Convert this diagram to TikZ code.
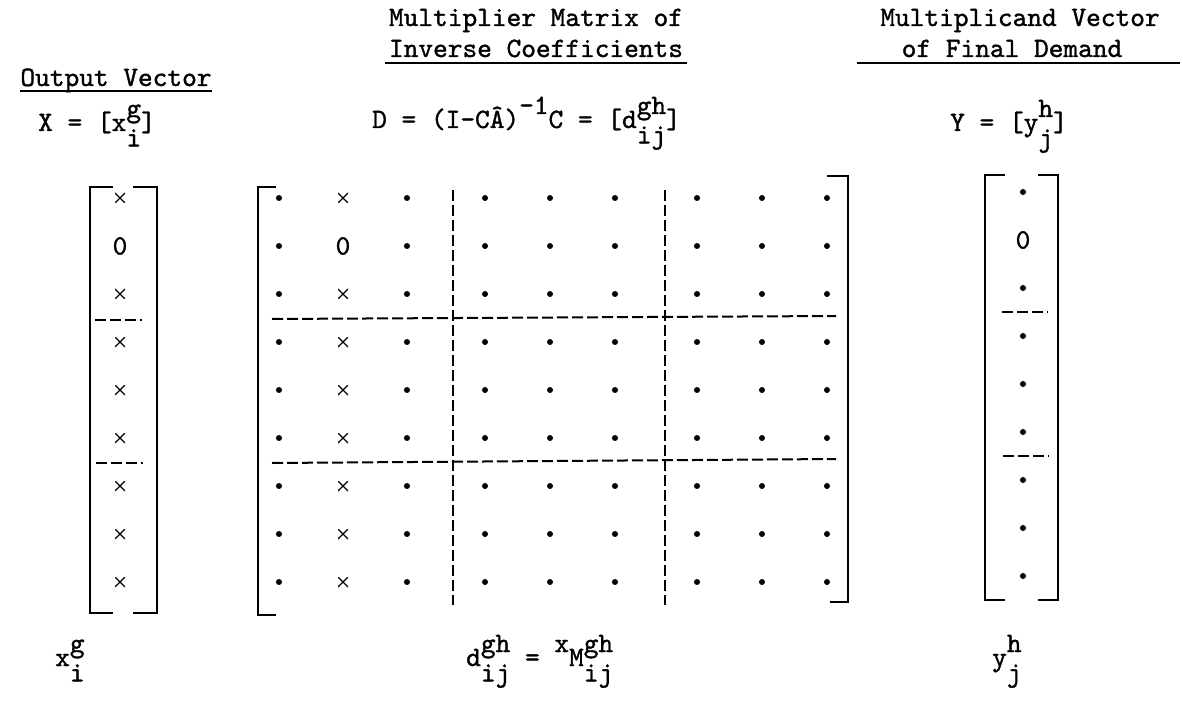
\documentclass[tikz,border=0pt]{standalone}
\usepackage{fontspec}
\newfontfamily\tw{lmmono10-regular.otf}[FakeBold=1.2]
\newcommand{\supsub}[2]{\rlap{\raisebox{0.5em}{#1}}\raisebox{-0.55em}{#2}}
\newcommand{\upx}[1]{\raisebox{0.5em}{#1}}
\begin{document}
\begin{tikzpicture}[x=1pt,y=-1pt,
  lbl/.style={inner sep=0pt, font=\tw\fontsize{28}{32}\selectfont},
  dotent/.style={circle, fill=black, inner sep=0pt, minimum size=6pt},
  crossent/.style={inner sep=0pt, minimum size=10pt,
    path picture={\draw[line width=1.4pt]
      (path picture bounding box.north west) -- (path picture bounding box.south east)
      (path picture bounding box.south west) -- (path picture bounding box.north east);}},
  zeroent/.style={inner sep=0pt, font=\tw\fontsize{28}{32}\selectfont},
  brk/.style={line width=1.6pt},
  dsh/.style={line width=2pt, dash pattern=on 11pt off 4pt},
  uline/.style={line width=1.4pt}]
\useasboundingbox (0,0) rectangle (1183,719);

% ---- titles
\node[lbl, anchor=base] (ov) at (116,86) {Output Vector};
\draw[uline] ([yshift=-5pt]ov.base west) -- ([yshift=-5pt]ov.base east);

\node[lbl, anchor=base] (mm1) at (536,26) {Multiplier Matrix of};
\node[lbl, anchor=base] (mm2) at (536,57) {Inverse Coefficients};
\draw[uline] ([yshift=-6pt,xshift=-4pt]mm2.base west) -- ([yshift=-6pt,xshift=4pt]mm2.base east);

\node[lbl, anchor=base] (mv1) at (1020,26) {Multiplicand Vector};
\node[lbl, anchor=base] (mv2) at (1012,57) {of Final Demand};
\coordinate (mvL) at (857,63);
\coordinate (mvR) at (1180,63);
\draw[uline] (mvL) -- (mvR);

% ---- equations
\node[lbl, anchor=base west] (xe) at (38,131) {X = [x\supsub{g}{i}]};
\node[lbl, anchor=base west] (de) at (372,128) {D = (I-CÂ)\upx{-1}C = [d\supsub{gh}{ij}]};
\node[lbl, anchor=base west] (ye) at (950,131) {Y = [y\supsub{h}{j}]};

% ---- output vector
\draw[brk] (113,187) -- (90,187) -- (90,613) -- (113,613);
\draw[brk] (133,187) -- (157,187) -- (157,613) -- (133,613);
\foreach \r/\y in {1/198,3/294,4/342,5/390,6/438,7/486,8/534,9/582}
  \node[crossent] (xv-\r) at (120,\y) {};
\node[zeroent] (xv-2) at (120,246) {0};
\draw[dsh] (95,320) -- (142,320);
\draw[dsh] (96,463) -- (143,463);

% ---- multiplier matrix
\draw[brk] (276,187) -- (258,187) -- (258,615) -- (276,615);
\draw[brk] (827,176) -- (848,176) -- (848,602) -- (830,602);
\foreach \r/\y in {1/198,2/246,3/294,4/342,5/390,6/438,7/486,8/534,9/582}
  \foreach \c/\x in {1/279,3/407,4/485,5/550,6/615,7/697,8/762,9/827}
    \node[dotent] (m-\r-\c) at (\x,\y) {};
\foreach \r/\y in {1/198,3/294,4/342,5/390,6/438,7/486,8/534,9/582}
  \node[crossent] (m-\r-2) at (343,\y) {};
\node[zeroent] (m-2-2) at (343,246) {0};
\draw[dsh] (453,190) -- (453,605);
\draw[dsh] (665,190) -- (665,605);
\draw[dsh] (272,319) -- (836,316);
\draw[dsh] (272,463) -- (836,459);

% ---- final demand vector
\draw[brk] (1005,175) -- (985,175) -- (985,600) -- (1005,600);
\draw[brk] (1038,175) -- (1058,175) -- (1058,600) -- (1038,600);
\foreach \r/\y in {1/192,3/288,4/336,5/384,6/432,7/480,8/528,9/576}
  \node[dotent] (yv-\r) at (1023,\y) {};
\node[zeroent] (yv-2) at (1023,240) {0};
\draw[dsh] (1002,312) -- (1048,312);
\draw[dsh] (1003,456) -- (1049,456);

% ---- bottom labels
\node[lbl, anchor=base west] (xl) at (55,666) {x\supsub{g}{i}};
\node[lbl, anchor=base west] (dl) at (466,666) {d\supsub{gh}{ij} = \upx{x}M\supsub{gh}{ij}};
\node[lbl, anchor=base west] (yl) at (992,666) {y\supsub{h}{j}};
\end{tikzpicture}
\end{document}
